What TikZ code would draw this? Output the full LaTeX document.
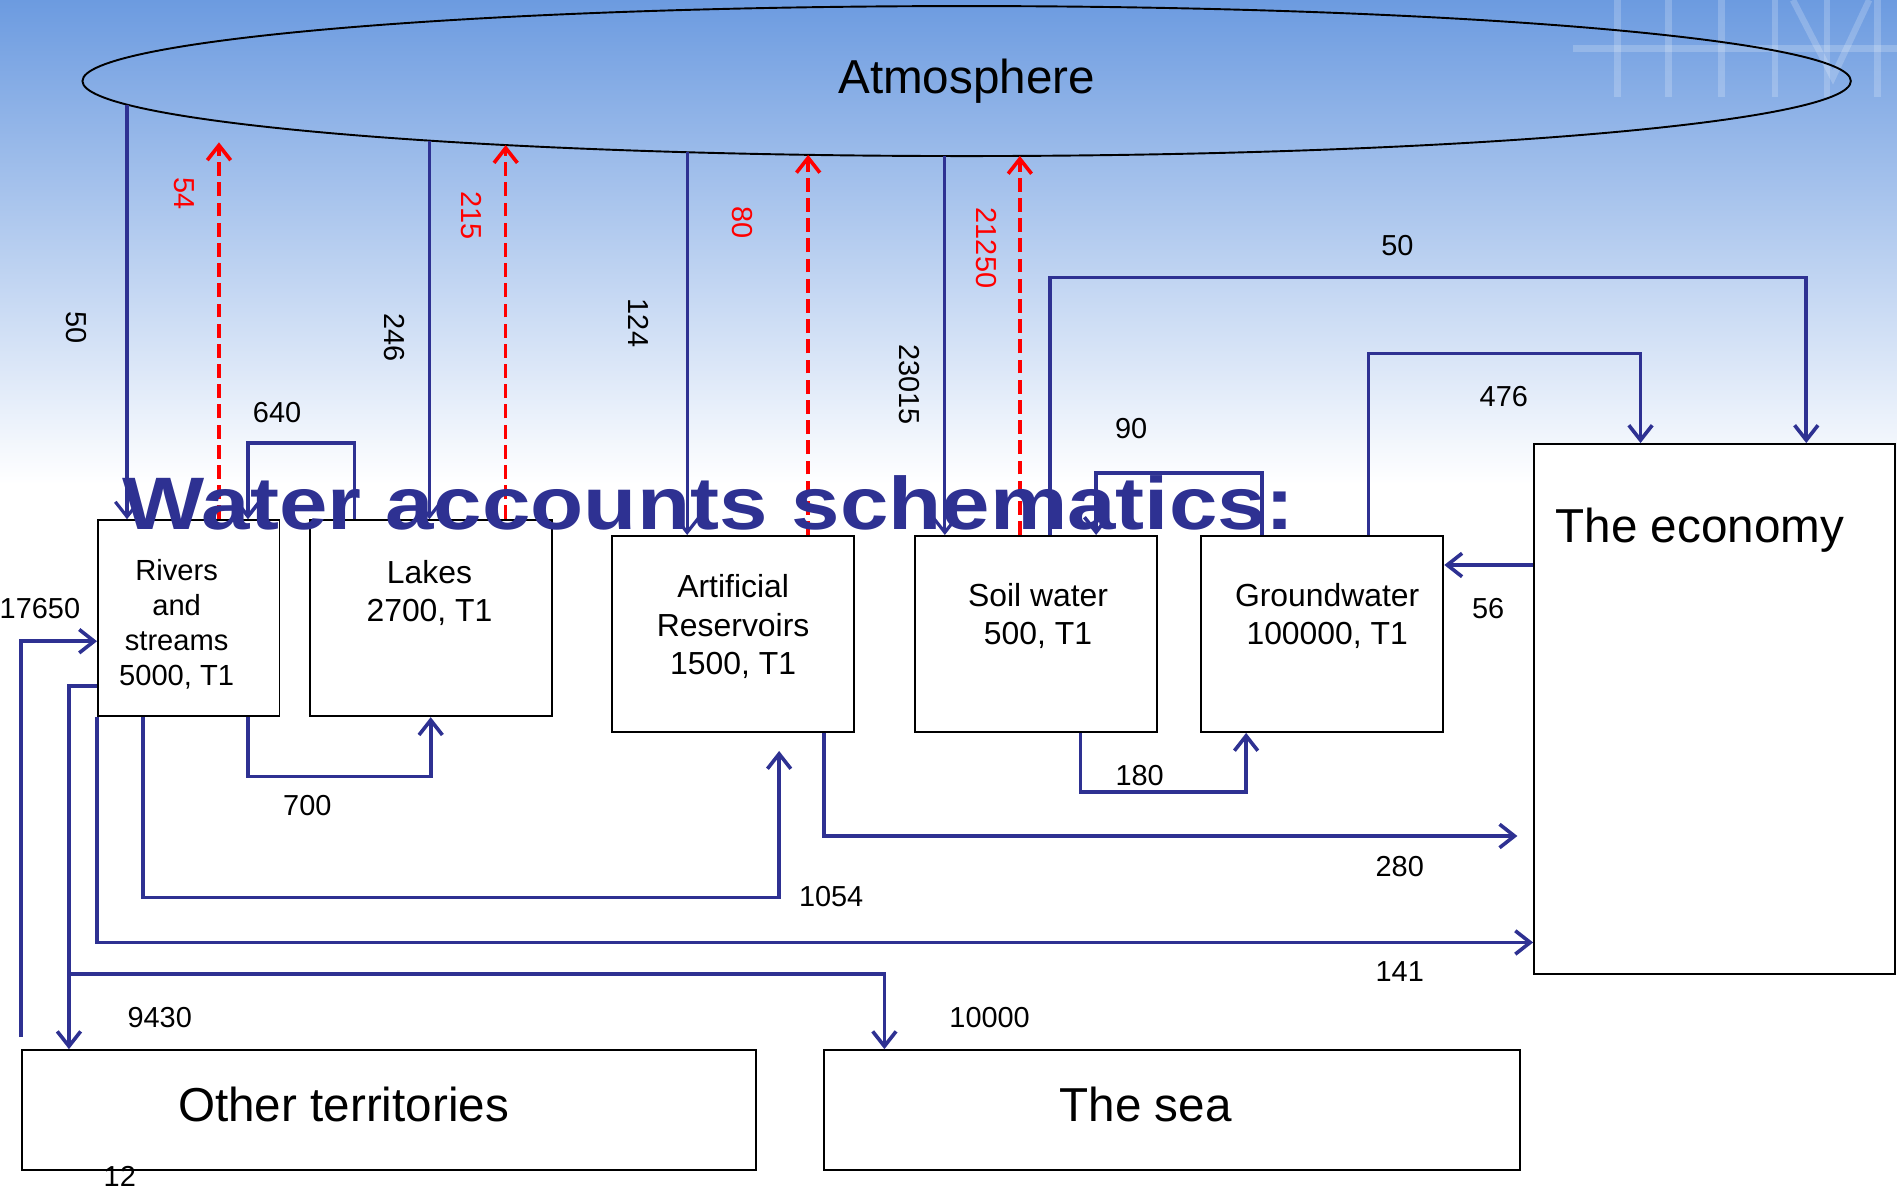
\documentclass[tikz,border=0pt]{standalone}
\usepackage{fontspec}
\setmainfont{Liberation Sans}
\usetikzlibrary{arrows.meta,shapes.geometric,fit,intersections}
\definecolor{flowblue}{RGB}{46,49,146}
\definecolor{skytop}{RGB}{108,155,224}
\definecolor{skymid}{RGB}{188,210,240}

\begin{document}
\begin{tikzpicture}[x=0.02cm,y=-0.02cm,
   >={Straight Barb[length=7pt,width=11pt]},
   box/.style={draw,line width=0.9pt,fill=white,inner sep=0pt},
   flow/.style={draw=flowblue,line width=1.7pt,->},
   rain/.style={draw=flowblue,line width=1.5pt,->},
   vapour/.style={draw=red,line width=1.7pt,dash pattern=on 6.5pt off 3pt,->},
   num/.style={font=\fontsize{13.6}{16}\selectfont},
   vnum/.style={num,rotate=-90},
   rnum/.style={vnum,text=red},
   big/.style={font=\fontsize{22.4}{26}\selectfont},
   store/.style={align=center,font=\fontsize{15}{18.1}\selectfont}]
\useasboundingbox (0,0) rectangle (1568,984);

% sky
\shade[top color=skytop,middle color=skymid,bottom color=white] (0,0) rectangle (1568,400);
\begin{scope}[white,opacity=.2,line width=3pt]
\foreach \x in {1337,1379,1423,1467,1510,1552}
   \draw (\x,0) -- (\x,80);
\draw (1300,40) -- (1568,40);
\draw (1482,0) -- (1515,64) -- (1545,0);
\end{scope}

\node[ellipse,draw,line width=0.9pt,minimum width=29.24cm,minimum height=2.48cm,
   inner sep=0pt,outer sep=0pt,big,name path=atmring] (atm) at (799,67) {Atmosphere};

% points on the rim of the atmosphere
\foreach \x [count=\i] in {105,181,355,418,568,668,781,843} {
   \path[name path=cut\i] (\x,67) -- (\x,300);
   \path[name intersections={of=atmring and cut\i, by=rim\i}];
}

% stores
\node[box,fit={(81,430) (231,592)}] (rivers) {};
\node[box,fit={(256,430) (456,592)}] (lakes) {};
\node[box,fit={(506,443) (706,605)}] (res) {};
\node[box,fit={(756,443) (956,605)}] (soil) {};
\node[box,fit={(993,443) (1193,605)}] (ground) {};
\node[box,fit={(1268,367) (1566,805)}] (econ) {};
\node[box,fit={(18,868) (625,967)}] (other) {};
\node[box,fit={(681,868) (1256,967)}] (sea) {};

\node[store,font=\fontsize{13.7}{16.4}\selectfont] (rivers-t) at (146,516) {Rivers\\and\\streams\\5000, T1};
\node[store] (lakes-t) at (355,490) {Lakes\\2700, T1};
\node[store] (res-t) at (606,518) {Artificial\\Reservoirs\\1500, T1};
\node[store] (soil-t) at (858,509) {Soil water\\500, T1};
\node[store] (ground-t) at (1097,509) {Groundwater\\100000, T1};
\node[big] (econ-t) at (1405,438) {The economy};
\node[big] (other-t) at (284,913) {Other territories};
\node[big] (sea-t) at (947,913) {The sea};

% precipitation and evaporation
\draw[rain] (rim1) -- (rim1 |- rivers.north);
\draw[vapour,shorten >=10pt] (rim2 |- rivers.north) -- (rim2);
\draw[rain] (rim3) -- (rim3 |- lakes.north);
\draw[vapour] (rim4 |- lakes.north) -- (rim4);
\draw[rain] (rim5) -- (rim5 |- res.north);
\draw[vapour] (rim6 |- res.north) -- (rim6);
\draw[rain] (rim7) -- (rim7 |- soil.north);
\draw[vapour] (rim8 |- soil.north) -- (rim8);

% flows between stores
\draw[flow] (293,0 |- lakes.north) -- ++(0,-63) -| (205,0 |- rivers.north);
\draw[flow] (868,0 |- soil.north) -- ++(0,-213) -| (1493,0 |- econ.north);
\draw[flow] (1043,0 |- ground.north) -- ++(0,-51) -| (906,0 |- soil.north);
\draw[flow] (1131,0 |- ground.north) -- ++(0,-150) -| (1356,0 |- econ.north);
\draw[flow] (econ.west |- 0,467) -- (ground.east |- 0,467);
\draw[flow] (205,0 |- rivers.south) -- ++(0,49) -| (lakes.south);
\draw[flow,shorten >=8.5pt] (118,0 |- rivers.south) -- ++(0,149) -| (644,0 |- res.south);
\draw[flow,shorten >=7.4pt] (681,0 |- res.south) |- (econ.west |- 0,691);
\draw[flow] (893,0 |- soil.south) -- ++(0,49) -| (1030,0 |- ground.south);
\draw[flow] (rivers.south west) |- (econ.west |- 0,779);
\draw[flow] (rivers.west |- 0,567) -| (57,0 |- other.north);
\coordinate (split) at (57,805);
\draw[flow] (split) -| (731,0 |- sea.north);
\draw[flow] ([yshift=5.7pt]other.north west) |- (rivers.west |- 0,530);

% amounts
\node[vnum] (n-rain1) at (63,271) {50};
\node[rnum] (n-evap1) at (152,160) {54};
\node[num] (n-640) at (229,341) {640};
\node[vnum] (n-rain2) at (326,279) {246};
\node[rnum] (n-evap2) at (390,178) {215};
\node[vnum] (n-rain3) at (528,267) {124};
\node[rnum] (n-evap3) at (614,184) {80};
\node[vnum] (n-rain4) at (752,318) {23015};
\node[rnum] (n-evap4) at (815,205) {21250};
\node[num] (n-50) at (1155,203) {50};
\node[num] (n-90) at (935,354) {90};
\node[num] (n-476) at (1243,328) {476};
\node[num] (n-56) at (1230,503) {56};
\node[num] (n-17650) at (33,503) {17650};
\node[num] (n-700) at (254,666) {700};
\node[num] (n-180) at (942,641) {180};
\node[num] (n-280) at (1157,716) {280};
\node[num] (n-1054) at (687,741) {1054};
\node[num] (n-141) at (1157,803) {141};
\node[num] (n-9430) at (132,841) {9430};
\node[num] (n-10000) at (818,841) {10000};
\node[num] (n-12) at (99,972) {12};

\node[font=\fontsize{35}{40}\bfseries\selectfont,text=flowblue,xscale=1.17,anchor=base]
   (title) at (586,438) {Water accounts schematics:};
\end{tikzpicture}
\end{document}
